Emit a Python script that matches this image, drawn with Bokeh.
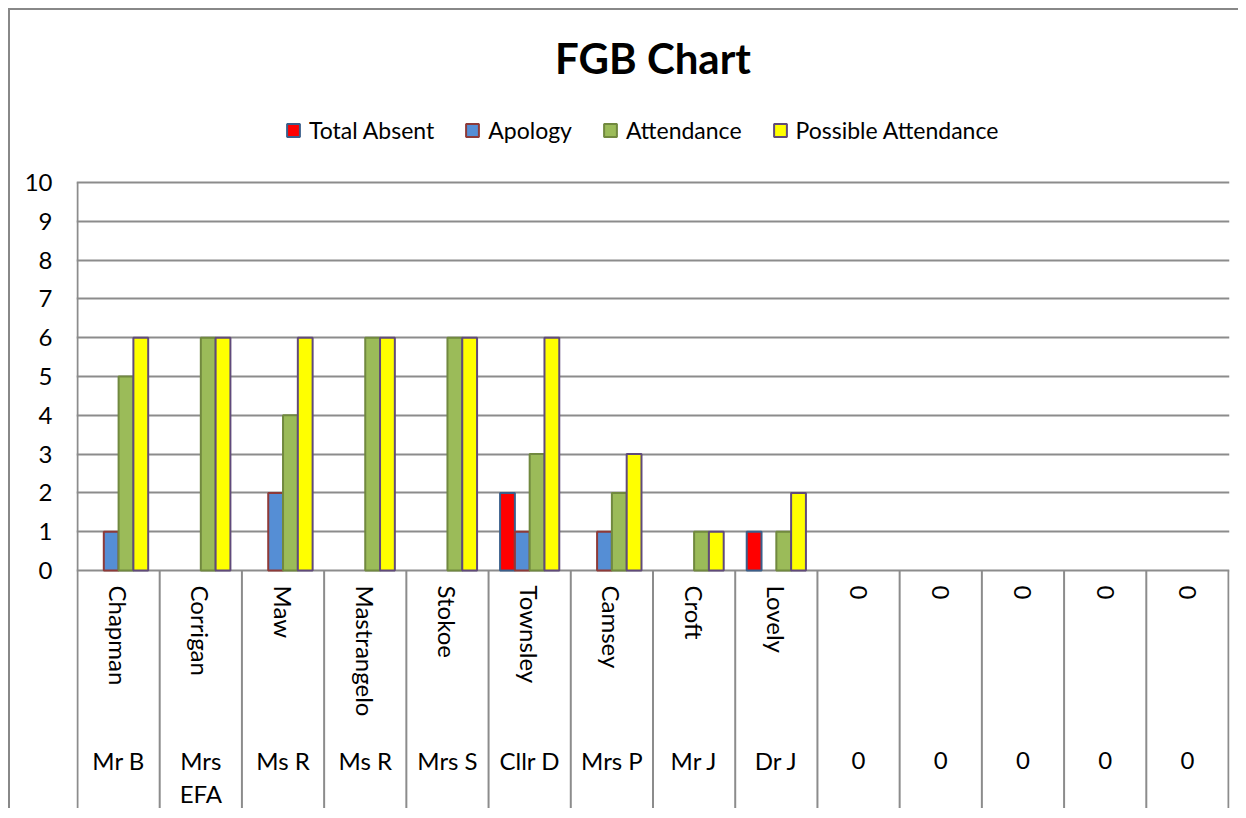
import math
from bokeh.plotting import figure
from bokeh.models import (ColumnDataSource, Range1d, FixedTicker, Legend, LegendItem,
                          CDSView, BooleanFilter)
from bokeh.transform import dodge
from bokeh.core.properties import value
from bokeh.embed import file_html
from bokeh.resources import INLINE

# ---------------- data ----------------
surnames = ["Chapman", "Corrigan", "Maw", "Mastrangelo", "Stokoe", "Townsley",
            "Camsey", "Croft", "Lovely", "0", "0", "0", "0", "0"]
titles = ["Mr B", "Mrs\nEFA", "Ms R", "Ms R", "Mrs S", "Cllr D", "Mrs P",
          "Mr J", "Dr J", "0", "0", "0", "0", "0"]
total_absent = [0, 0, 0, 0, 0, 2, 0, 0, 1, 0, 0, 0, 0, 0]
apology      = [1, 0, 2, 0, 0, 1, 1, 0, 0, 0, 0, 0, 0, 0]
attendance   = [5, 6, 4, 6, 6, 3, 2, 1, 1, 0, 0, 0, 0, 0]
possible     = [6, 6, 6, 6, 6, 6, 3, 1, 2, 0, 0, 0, 0, 0]
series_names = ["Total Absent", "Apology", "Attendance", "Possible Attendance"]
y_ticks = list(range(0, 11))
chart_title = "FGB Chart"

# ---------------- style / layout ----------------
FONT = "Lato"
FS = "24px"
LFS = "23px"
W, H = 1230, 800
ML, MR, MT = 66, 11, 72
frame_h = H - MT
px_per_unit = 38.8
y_top_tick = 10
zero_px = 560 - MT            # pixels from frame top to value 0
y_max = zero_px / px_per_unit
y_min = -(frame_h - zero_px) / px_per_unit
GRID = "#8c8c8c"

n = len(surnames)
ex = 0.012
xs = [i + 0.5 for i in range(n)]
title_l1 = [t.split("\n")[0] for t in titles]
title_l2 = [t.split("\n")[1] if "\n" in t else "" for t in titles]
src = ColumnDataSource(dict(x=xs, surname=surnames, t1=title_l1, t2=title_l2,
                            absent=total_absent, apology=apology,
                            attendance=attendance, possible=possible))

p = figure(width=W, height=H, x_range=Range1d(-ex, n + ex), y_range=Range1d(y_min, y_max),
           output_backend="svg", toolbar_location=None, x_axis_location=None,
           min_border_left=ML, min_border_right=MR, min_border_top=MT,
           min_border_bottom=0)
p.styles = {"border-left": "2px solid #888888", "border-top": "2px solid #888888",
            "margin-left": "8px", "margin-top": "8px"}
p.outline_line_color = None
p.background_fill_color = "white"
p.border_fill_color = "white"

# title
p.title.text = chart_title
p.title.align = "center"
p.title.text_font = FONT
p.title.text_font_size = "42px"
p.title.text_font_style = "bold"
p.title.text_color = "black"
p.title.standoff = 0

# y axis
p.yaxis.ticker = FixedTicker(ticks=y_ticks)
p.yaxis.axis_line_color = None
p.yaxis.major_tick_line_color = None
p.yaxis.minor_tick_line_color = None
p.yaxis.major_tick_out = 0
p.yaxis.major_tick_in = 0
p.yaxis.major_label_text_font = FONT
p.yaxis.major_label_text_font_size = FS
p.yaxis.major_label_text_color = "black"
p.yaxis.major_label_standoff = 24
p.ygrid.grid_line_color = GRID
p.ygrid.grid_line_width = 2
p.ygrid.bounds = (0, y_top_tick)
p.xgrid.visible = False

# value axis line + category separators (below the axis)
p.segment(x0=[0], y0=[y_top_tick], x1=[0], y1=[y_min], line_color=GRID, line_width=2)
bounds_x = list(range(1, n + 1))
p.segment(x0=bounds_x, y0=0, x1=bounds_x, y1=y_min, line_color=GRID, line_width=2)

# bars
fields = ["absent", "apology", "attendance", "possible"]
series_vals = [total_absent, apology, attendance, possible]
fills = ["#FF0000", "#558ED5", "#9BBB59", "#FFFF00"]
lines = ["#3A5F8B", "#8E3A38", "#71893F", "#604A7B"]
offsets = [-0.27, -0.09, 0.09, 0.27]
legend_items = []
for nm, f, vals, fc, lc, off in zip(series_names, fields, series_vals, fills, lines, offsets):
    view = CDSView(filter=BooleanFilter([v != 0 for v in vals]))
    p.vbar(x=dodge("x", off), top=f, bottom=0, width=0.18, source=src, view=view,
           fill_color=fc, line_color=lc, line_width=2)
    # square legend key for the same series (hidden on the plot itself)
    key = p.scatter(x=dodge("x", off), y=f, source=src, marker="square", size=13,
                    fill_color=fc, line_color=lc, line_width=2, visible=False)
    legend_items.append(LegendItem(label=nm, renderers=[key]))

# category labels
p.text(x="x", y=-15 / px_per_unit, text="surname", source=src, angle=-math.pi / 2,
       text_align="left", text_baseline="middle", text_font=value(FONT),
       text_font_size=FS, text_color="black")
p.text(x="x", y=-190 / px_per_unit, text="t1", source=src,
       text_align="center", text_baseline="middle", text_font=value(FONT),
       text_font_size=FS, text_color="black")
p.text(x="x", y=-223 / px_per_unit, text="t2", source=src,
       text_align="center", text_baseline="middle", text_font=value(FONT),
       text_font_size=FS, text_color="black")

legend = Legend(items=legend_items,
                orientation="horizontal", location=(201, 664),
                border_line_color=None, background_fill_alpha=0, padding=0, margin=0,
                spacing=22, label_standoff=-5, glyph_width=32, glyph_height=32,
                label_text_font=FONT, label_text_font_size=LFS, label_text_color="black")
p.add_layout(legend)

open("out.html", "w").write(file_html(p, INLINE))
